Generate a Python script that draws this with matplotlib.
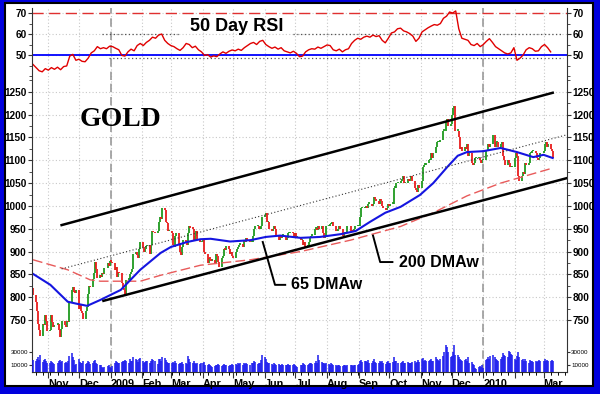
import matplotlib
matplotlib.use('Agg')
import matplotlib.pyplot as plt
import matplotlib.dates as mdates
from matplotlib.patches import Rectangle
from matplotlib.ticker import FixedLocator, FuncFormatter
import numpy as np
import pandas as pd

plt.rcParams['font.family'] = ['Liberation Sans', 'DejaVu Sans']

# daily gold closes, business days from Fri 17 Oct 2008 (one row per week)
closes = [805,
    790, 770, 742, 728, 715,
    742, 738, 762, 748, 725,
    728, 762, 745, 735, 740,
    742, 728, 712, 730, 748,
    740, 735, 748, 745, 790,
    815, 822, 812, 810, 815,
    775, 782, 770, 765, 752,
    770, 778, 808, 825, 822,
    840, 852, 878, 862, 842,
    848, 845, 852, 850, 865,
    875, 868, 880, 878, 875,
    860, 866, 845, 855, 852,
    830, 820, 815, 808, 838,
    840, 850, 855, 862, 895,
    900, 893, 885, 905, 920,
    910, 900, 906, 912, 915,
    895, 915, 945, 943, 940,
    946, 965, 975, 972, 995,
    990, 965, 962, 945, 945,
    940, 915, 910, 935, 940,
    915, 900, 892, 910, 925,
    920, 915, 940, 955, 952,
    950, 925, 935, 945, 925,
    920, 922, 925, 900, 895,
    875, 885, 884, 880, 882,
    875, 895, 890, 876, 866,
    885, 890, 905, 904, 912,
    905, 895, 900, 890, 885,
    900, 905, 910, 915, 916,
    910, 925, 920, 930, 925,
    920, 921, 935, 950, 955,
    955, 950, 950, 955, 975,
    980, 985, 965, 965, 950,
    945, 950, 955, 950, 935,
    925, 935, 930, 935, 935,
    925, 930, 940, 940, 942,
    940, 930, 940, 930, 932,
    925, 926, 915, 920, 910,
    915, 920, 930, 935, 937,
    950, 950, 948, 955, 950,
    955, 940, 930, 935, 955,
    955, 960, 960, 965, 955,
    945, 945, 950, 955, 950,
    935, 940, 940, 942, 955,
    945, 945, 944, 950, 955,
    955, 955, 975, 995, 995,
    995, 1000, 995, 1005, 1005,
    1000, 1005, 1020, 1015, 1010,
    1005, 1015, 1010, 1000, 995,
    990, 995, 1005, 1000, 1005,
    1005, 1040, 1040, 1050, 1050,
    1055, 1060, 1065, 1050, 1050,
    1060, 1055, 1060, 1065, 1055,
    1040, 1035, 1030, 1045, 1040,
    1055, 1085, 1090, 1090, 1095,
    1100, 1100, 1115, 1105, 1115,
    1130, 1140, 1140, 1140, 1145,
    1165, 1165, 1185, 1190, 1175,
    1180, 1200, 1215, 1218, 1165,
    1165, 1150, 1125, 1130, 1120,
    1130, 1125, 1135, 1110, 1115,
    1095, 1090, 1095, 1105, 1105,
    1105, 1100, 1095, 1100, 1100,
    1120, 1120, 1135, 1130, 1135,
    1155, 1130, 1140, 1140, 1130,
    1135, 1140, 1110, 1100, 1090,
    1100, 1095, 1085, 1085, 1085,
    1105, 1115, 1110, 1065, 1055,
    1065, 1075, 1070, 1095, 1090,
    1095, 1115, 1115, 1120, 1120,
    1115, 1105, 1100, 1105, 1115,
    1120, 1135, 1140, 1130, 1135,
    1125, 1120, 1105]
first_open = 820

# daily volume in thousands, same days as closes
volume_k = [18,
    16, 20, 22, 18, 25,
    15, 18, 20, 16, 14,
    13, 17, 15, 14, 12,
    14, 16, 18, 15, 17,
    13, 15, 14, 16, 24,
    28, 22, 18, 10, 12,
    19, 15, 14, 13, 16,
    12, 14, 17, 15, 12,
    13, 16, 18, 14, 12,
    10, 11, 8, 6, 7,
    9, 10, 8, 6, 9,
    14, 16, 15, 13, 14,
    15, 17, 16, 18, 17,
    14, 19, 16, 17, 22,
    20, 18, 15, 19, 21,
    16, 14, 15, 17, 16,
    14, 16, 20, 18, 17,
    12, 19, 20, 16, 22,
    21, 18, 15, 14, 13,
    14, 15, 13, 16, 14,
    12, 14, 13, 15, 12,
    13, 12, 24, 20, 15,
    14, 16, 13, 12, 14,
    12, 13, 14, 15, 11,
    10, 12, 11, 9, 8,
    9, 11, 10, 12, 11,
    9, 10, 12, 11, 10,
    9, 10, 11, 12, 10,
    12, 11, 13, 12, 14,
    11, 13, 12, 14, 12,
    11, 13, 14, 16, 15,
    12, 14, 13, 18, 25,
    22, 20, 15, 13, 14,
    12, 11, 13, 12, 11,
    12, 10, 11, 12, 10,
    11, 10, 12, 11, 10,
    11, 12, 10, 9, 7,
    10, 11, 13, 12, 10,
    11, 12, 14, 13, 12,
    14, 16, 13, 25, 18,
    15, 13, 14, 12, 13,
    12, 11, 13, 12, 11,
    10, 9, 11, 10, 9,
    9, 10, 11, 9, 10,
    10, 11, 9, 10, 11,
    11, 12, 16, 18, 15,
    17, 16, 15, 18, 14,
    13, 16, 19, 15, 14,
    13, 17, 15, 16, 14,
    12, 15, 17, 14, 13,
    15, 22, 17, 16, 13,
    14, 15, 16, 14, 13,
    15, 14, 13, 14, 15,
    16, 14, 15, 18, 15,
    19, 21, 17, 18, 16,
    17, 18, 19, 16, 17,
    22, 20, 18, 17, 19,
    24, 30, 40, 38, 30,
    22, 24, 30, 40, 25,
    26, 22, 20, 18, 16,
    18, 20, 16, 22, 14,
    15, 12, 10, 6, 5,
    7, 9, 8, 10, 6,
    18, 20, 22, 19, 24,
    26, 22, 20, 18, 17,
    20, 22, 28, 25, 24,
    22, 32, 30, 27, 26,
    20, 18, 24, 30, 22,
    18, 20, 16, 19, 17,
    14, 18, 16, 17, 15,
    16, 15, 17, 18, 16,
    17, 19, 16, 18, 17,
    16, 18, 17]

# 50 day RSI, read every 3 calendar days from 17 Oct 2008
rsi = [45.5, 44.0, 42.5, 42.0, 43.5, 42.8, 44.0, 43.2, 44.2, 43.0,
       44.5, 44.8, 49.5, 50.3, 47.5, 48.0, 47.0, 46.8, 48.5, 51.0,
       52.0, 54.0, 53.0, 53.5, 53.0, 54.2, 54.0, 53.2, 52.5, 49.8,
       49.5, 51.5, 52.8, 52.0, 54.5, 55.5, 54.5, 56.0, 57.0, 58.5,
       58.0, 59.5, 60.0, 57.0, 55.5, 54.5, 54.0, 53.0, 52.2, 53.5,
       55.5, 55.0, 53.5, 54.2, 52.5, 51.5, 49.8, 50.2, 49.0, 49.6,
       49.2, 50.5, 51.5, 50.8, 51.8, 52.4, 52.0, 52.8, 52.2, 53.5,
       54.5, 55.5, 56.0, 55.0, 56.5, 57.0, 55.0, 54.0, 53.2, 53.8,
       52.8, 53.5, 52.0, 51.5, 51.0, 51.8, 50.8, 49.2, 49.5, 51.5,
       52.5, 53.0, 52.8, 53.8, 53.2, 54.0, 54.8, 54.5, 52.5, 52.0,
       52.8, 51.5, 52.5, 53.0, 55.5, 57.0, 58.0, 57.5, 58.5, 59.0,
       58.5, 59.5, 58.8, 59.2, 57.0, 55.8, 58.0, 60.5, 61.0, 62.5,
       62.8, 61.5, 61.0, 60.2, 59.0, 56.5, 58.0, 61.0, 62.0, 63.0,
       63.8, 64.5, 64.2, 65.0, 67.5, 68.5, 70.5, 70.0, 71.0, 62.5,
       58.0, 57.5, 57.0, 55.0, 54.5, 55.5, 54.0, 55.0, 56.5, 57.8,
       56.0, 54.0, 53.0, 52.0, 51.0, 50.5, 51.0, 53.5, 47.5, 48.5,
       50.0, 52.5, 53.5, 53.0, 51.8, 52.0, 54.0, 55.0, 53.5, 51.5]

# 65 day weighted moving average (blue)
ma65_dates = ['2008-10-17', '2008-11-03', '2008-11-20', '2008-11-28', '2008-12-09',
              '2008-12-22', '2009-01-11', '2009-01-30', '2009-02-19', '2009-03-01',
              '2009-03-17', '2009-03-30', '2009-04-09', '2009-04-28', '2009-05-18',
              '2009-06-02', '2009-06-16', '2009-07-06', '2009-07-25', '2009-08-14',
              '2009-08-29', '2009-09-12', '2009-09-27', '2009-10-12', '2009-10-31',
              '2009-11-13', '2009-11-27', '2009-12-07', '2009-12-16', '2010-01-01',
              '2010-01-18', '2010-02-03', '2010-02-19', '2010-03-01', '2010-03-10']
ma65 = [851, 827, 790, 786, 781, 794, 816, 860, 897, 910,
        921, 927, 928, 922, 925, 932, 935, 930, 932, 938,
        945, 965, 985, 998, 1024, 1050, 1086, 1110, 1118, 1120,
        1127, 1118, 1107, 1112, 1105]

# 200 day weighted moving average (red dashed)
ma200_dates = ['2008-10-17', '2008-11-20', '2008-12-12', '2008-12-22', '2009-01-30',
               '2009-02-19', '2009-03-30', '2009-05-18', '2009-07-06', '2009-08-24',
               '2009-10-12', '2009-11-13', '2009-12-16', '2010-01-18', '2010-03-10']
ma200 = [882, 860, 838, 835, 835, 848, 870, 882, 900, 925,
         955, 985, 1022, 1050, 1083]

# trend channel
upper_dates, upper_vals = ['2008-11-14', '2010-03-10'], [958, 1248]
mid_dates, mid_vals = ['2008-11-14', '2010-03-24'], [862, 1156]
lower_dates, lower_vals = ['2008-12-25', '2010-03-24'], [792, 1061]

price_ticks = [750, 800, 850, 900, 950, 1000, 1050, 1100, 1150, 1200, 1250]
rsi_ticks = [50, 60, 70]
vol_ticks = [10000, 30000]

W, H = 600, 394
fig = plt.figure(figsize=(W / 100, H / 100), dpi=100)
fig.patch.set_facecolor('#0000dd')
fig.add_artist(Rectangle((5 / W, 1 - 386 / H), 588 / W, 383 / H, transform=fig.transFigure,
                         facecolor='white', edgecolor='black', lw=1.5, zorder=-10))

L, R = 32, 567
ax_r = fig.add_axes([L / W, 1 - 80 / H, (R - L) / W, 72 / H])
ax = fig.add_axes([L / W, 1 - 372 / H, (R - L) / W, 292 / H], sharex=ax_r)
ax_v = fig.add_axes([L / W, 1 - 372 / H, (R - L) / W, 40 / H], sharex=ax_r)
ax_v.patch.set_alpha(0)

dates = pd.bdate_range('2008-10-17', periods=len(closes))
c = np.array(closes, dtype=float)
o = np.r_[first_open, c[:-1]]
up = c >= o
lo = np.minimum(o, c)
hi = np.maximum(np.maximum(o, c), lo + 3)

grid_kw = dict(color='#c8c8c8', ls=(0, (1, 2)), lw=0.8)
for a in (ax_r, ax):
    a.grid(True, which='major', **grid_kw)
    a.set_axisbelow(True)
    for yr in ('2009-01-01', '2010-01-01'):
        a.axvline(pd.Timestamp(yr), color='#9a9a9a', ls=(0, (5, 3)), lw=1.2, zorder=1)
    a.spines['top'].set_visible(False)
    for s in ('left', 'right', 'bottom'):
        a.spines[s].set_color('#333333')
ax_r.spines['bottom'].set_visible(False)

# RSI panel
rsi_dates = pd.date_range('2008-10-17', periods=len(rsi), freq='3D')
ax_r.axhline(70, color='#e03030', ls=(0, (8, 4)), lw=1.0)
ax_r.axhline(50, color='#0000ff', lw=1.3)
ax_r.plot(pd.to_datetime(['2008-12-24', '2009-03-10']), [60, 60], color='#555555', ls=(0, (1, 2)), lw=0.9)
ax_r.plot(pd.to_datetime(['2009-06-29', '2010-03-20']), [60, 60], color='#555555', ls=(0, (1, 2)), lw=0.9)
ax_r.plot(pd.to_datetime(['2008-12-30', '2010-03-20']), [48.4, 48.4], color='#555555', ls=(0, (1, 2)), lw=0.9)
ax_r.plot(rsi_dates, rsi, color='#e00000', lw=1.0)
ax_r.set_ylim(38.1, 72.4)
ax_r.yaxis.set_major_locator(FixedLocator(rsi_ticks))
ax_r.yaxis.set_minor_locator(FixedLocator([40, 45, 55, 65]))
ax_r.text(0.383, 0.74, '50 Day RSI', transform=ax_r.transAxes, ha='center', va='center',
          fontsize=13, fontweight='bold')

# price panel
ax.vlines(dates[up], lo[up], hi[up], color='#1f9a1f', lw=1.3)
ax.vlines(dates[~up], lo[~up], hi[~up], color='#e81c1c', lw=1.3)
ax.plot(pd.to_datetime(ma200_dates), ma200, color='#e85a5a', ls=(0, (7, 3)), lw=1.0)
ax.plot(pd.to_datetime(ma65_dates), ma65, color='#1515e0', lw=1.5)
ax.plot(pd.to_datetime(upper_dates), upper_vals, color='black', lw=1.8)
ax.plot(pd.to_datetime(lower_dates), lower_vals, color='black', lw=1.8)
ax.plot(pd.to_datetime(mid_dates), mid_vals, color='#333333', ls=(0, (1, 2)), lw=0.8)
ax.set_ylim(636, 1276)
ax.yaxis.set_major_locator(FixedLocator(price_ticks))
ax.yaxis.set_minor_locator(FixedLocator([v + 25 for v in price_ticks[:-1]] + [1275]))

ax.text(0.165, 0.865, 'GOLD', transform=ax.transAxes, ha='center', va='center',
        fontsize=20, fontweight='bold', family='Liberation Serif')

ax.plot(pd.to_datetime(['2009-05-30', '2009-06-11', '2009-06-21']), [921, 827, 827], color='black', lw=1.4)
ax.text(pd.Timestamp('2009-06-27'), 827, '65 DMAw', fontsize=11.5, fontweight='bold', va='center')
ax.plot(pd.to_datetime(['2009-09-15', '2009-09-22', '2009-10-04']), [935, 877, 877], color='black', lw=1.4)
ax.text(pd.Timestamp('2009-10-10'), 877, '200 DMAw', fontsize=11.5, fontweight='bold', va='center')

# volume
ax_v.vlines(dates, 0, np.array(volume_k) * 1000, color='#1a1aee', lw=1.1)
ax_v.set_ylim(0, 60000)
ax_v.yaxis.set_major_locator(FixedLocator(vol_ticks))
for s in ax_v.spines.values():
    s.set_visible(False)
ax_v.tick_params(axis='x', bottom=False, labelbottom=False)
ax_v.tick_params(axis='y', left=True, right=True, labelleft=True, labelright=True,
                 labelsize=4.5, length=2, pad=1, color='#333333')

# ticks
for a in (ax_r, ax):
    a.tick_params(axis='y', which='major', left=True, right=True, labelleft=True, labelright=True,
                  labelsize=7.2, length=3, pad=1, color='#333333')
    a.tick_params(axis='y', which='minor', left=True, right=True, length=2, color='#333333')
    for lab in a.get_yticklabels():
        lab.set_fontweight('bold')
ax_r.tick_params(axis='x', which='both', bottom=False, labelbottom=False)

ax.set_xlim(pd.Timestamp('2008-10-16'), pd.Timestamp('2010-03-24'))
ax.xaxis.set_major_locator(mdates.MonthLocator())
ax.xaxis.set_minor_locator(mdates.WeekdayLocator(byweekday=mdates.MO))


def month_label(x, pos):
    d = mdates.num2date(x)
    if d.month == 1:
        return str(d.year)
    if d.year == 2010 and d.month == 2:
        return ''
    return d.strftime('%b')


ax.xaxis.set_major_formatter(FuncFormatter(month_label))
ax.tick_params(axis='x', which='major', length=4, pad=1, labelsize=7.8, color='#333333')
ax.tick_params(axis='x', which='minor', length=2, color='#333333')
plt.setp(ax.get_xticklabels(), ha='left', fontweight='bold')

fig.savefig('out.png', dpi=100, facecolor=fig.get_facecolor())
